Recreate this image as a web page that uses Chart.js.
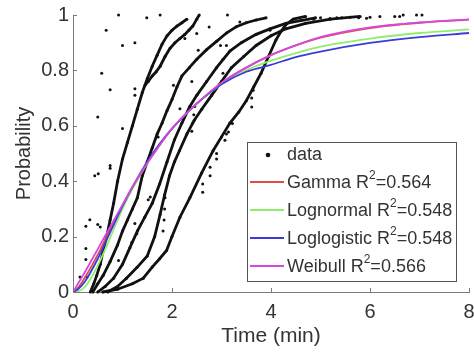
<!DOCTYPE html>
<html>
<head>
<meta charset="utf-8">
<script src="https://cdn.jsdelivr.net/npm/chart.js@4/dist/chart.umd.min.js"></script>
<style>
  html, body { margin: 0; padding: 0; background: #fff; }
  #wrap { width: 474px; height: 354px; }
</style>
</head>
<body>
<div id="wrap"><canvas id="c" width="474" height="354"></canvas></div>
<script>
// Empirical cumulative probability of each recorded run: time (min) and probability
const runA_t = [0.35,0.42,0.48,0.55,0.61,0.68,0.75,0.82,0.9,1.0,1.1,1.2,1.3,1.4,1.5,1.6,1.7,1.8,1.9,2.0,2.1,2.2,2.3];
const runA_p = [0,0.03,0.06,0.1,0.15,0.2,0.26,0.32,0.4,0.48,0.54,0.6,0.66,0.72,0.77,0.815,0.855,0.895,0.925,0.945,0.96,0.972,0.985];

const runB_t = [1.45,1.52,1.6,1.68,1.76,1.86,1.96,2.06,2.16,2.26,2.34,2.42,2.5,2.55];
const runB_p = [0.745,0.76,0.78,0.795,0.815,0.85,0.88,0.9,0.915,0.93,0.945,0.96,0.985,1.0];

const runC_t = [0.4,0.5,0.61,0.75,0.9,1.0,1.1,1.2,1.3,1.4,1.5,1.6,1.7,1.8,1.9,2.0,2.1,2.2,2.35,2.5,2.7,2.9,3.1,3.3,3.5,3.7,3.9];
const runC_p = [0,0.03,0.06,0.11,0.17,0.22,0.26,0.3,0.34,0.42,0.47,0.52,0.57,0.61,0.655,0.695,0.74,0.78,0.81,0.84,0.875,0.905,0.935,0.958,0.972,0.982,0.99];

const runD_t = [0.5,0.65,0.82,1.0,1.15,1.3,1.45,1.6,1.75,1.9,2.05,2.2,2.36,2.5,2.7,2.9,3.17,3.4,3.7,3.98,4.3,4.6,4.9];
const runD_p = [0,0.02,0.05,0.1,0.16,0.22,0.27,0.32,0.39,0.47,0.55,0.61,0.67,0.71,0.76,0.81,0.87,0.9,0.93,0.95,0.97,0.98,0.99];

const runE_t = [0.7,0.9,1.08,1.3,1.5,1.65,1.76,1.85,1.95,2.05,2.15,2.3,2.45,2.6,2.8,3.0,3.2,3.45,3.7,4.0,4.3,4.7,5.2,5.8];
const runE_p = [0,0.02,0.05,0.09,0.13,0.2,0.28,0.35,0.42,0.47,0.51,0.57,0.62,0.66,0.71,0.76,0.81,0.85,0.89,0.925,0.95,0.97,0.985,0.995];

const runF_t = [0.6,0.9,1.2,1.42,1.6,1.75,1.89,2.0,2.16,2.36,2.6,2.83,3.0,3.17,3.35,3.5,3.65,3.8,3.95,4.1,4.2,4.3,4.45,4.7];
const runF_p = [0,0.01,0.03,0.05,0.09,0.12,0.15,0.2,0.27,0.34,0.43,0.51,0.56,0.61,0.65,0.69,0.74,0.79,0.85,0.91,0.94,0.965,0.985,0.995];

// Isolated observations (short runs and late tails)
const looseT = [0.92,1.49,1.76,0.67,1.0,1.25,0.58,0.75,1.25,1.25,0.5,1.0,0.75,0.75,0.44,0.51,0.26,0.34,0.5,0.26,0.26,0.14,0.28,1.25,1.29,1.52,1.19,0.92,
                2.77,2.62,2.62,2.03,2.16,1.72,2.26,2.75,2.5,2.98,3.1,3.12,3.14,3.22,2.9,3.07,3.64,3.61,3.61,3.98,3.03,3.03,2.53,3.37,1.56,0.55,2.4,
                2.4,2.42,2.44,2.46,1.82,1.84,1.85,1.86,2.9,2.77,3.1,
                4.86,5.0,5.19,5.33,5.43,5.6,5.77,5.93,6.0,6.2,6.5,6.6,6.67,6.94,7.05];
const looseP = [1.0,0.99,1.0,0.945,0.89,0.9,0.79,0.73,0.734,0.71,0.632,0.59,0.457,0.447,0.42,0.427,0.237,0.261,0.244,0.157,0.117,0.054,0.054,0.247,0.21,0.333,0.18,0.114,
                0.42,0.39,0.36,0.746,0.662,0.56,0.915,0.957,0.933,0.89,0.89,1.0,0.578,0.608,0.5,0.548,0.728,0.7,0.668,0.945,0.84,0.79,0.873,0.975,0.343,0.235,0.76,
                0.58,0.61,0.64,0.67,0.22,0.26,0.3,0.34,0.48,0.45,0.57,
                0.985,0.99,0.987,0.99,0.99,0.992,0.99,0.988,0.992,0.995,0.995,0.995,1.0,1.0,1.0];

// Fitted distribution CDFs
const fitT        = [0,0.1,0.25,0.5,0.75,1,1.25,1.5,1.75,2,2.5,3,3.5,4,4.5,5,6,7,8];
const gammaP      = [0,0.015,0.055,0.135,0.225,0.31,0.39,0.465,0.53,0.59,0.68,0.755,0.81,0.855,0.89,0.918,0.953,0.972,0.983];
const lognormalP  = [0,0.002,0.02,0.095,0.195,0.3,0.39,0.465,0.532,0.59,0.68,0.75,0.8,0.835,0.862,0.886,0.915,0.935,0.948];
const loglogistP  = [0,0.01,0.04,0.12,0.215,0.31,0.395,0.47,0.535,0.59,0.68,0.75,0.795,0.82,0.848,0.868,0.899,0.92,0.935];
const weibullP    = [0,0.03,0.075,0.155,0.235,0.315,0.395,0.465,0.53,0.59,0.68,0.755,0.81,0.855,0.89,0.92,0.955,0.973,0.984];

const fitNames  = ['Gamma', 'Lognormal', 'Loglogistic', 'Weibull'];
const fitR2     = ['0.564', '0.548', '0.548', '0.566'];
const fitColors = ['#e24a4a', '#8ef06a', '#3b3bdc', '#d448e0'];

const xTicks = [0, 2, 4, 6, 8];
const yTicks = [0, 0.2, 0.4, 0.6, 0.8, 1];

const FONT = "'Liberation Sans', Arial, Helvetica, sans-serif";
const TEXT = '#333333';
const AXIS = '#7a7a7a';

const pts = (t, p) => t.map((v, i) => ({ x: v, y: p[i] }));

const runs = [[runA_t, runA_p], [runB_t, runB_p], [runC_t, runC_p], [runD_t, runD_p], [runE_t, runE_p], [runF_t, runF_p]];

const datasets = [];
runs.forEach(([t, p]) => {
  datasets.push({
    label: 'data', data: pts(t, p), showLine: true,
    borderColor: '#111', borderWidth: 2.8, backgroundColor: '#111',
    pointRadius: 1.5, pointHoverRadius: 1.5, pointBorderWidth: 0,
    tension: 0, order: 10, clip: 4
  });
});
datasets.push({
  label: 'data', data: pts(looseT, looseP), showLine: false,
  backgroundColor: '#111', borderColor: '#111',
  pointRadius: 1.5, pointHoverRadius: 1.5, pointBorderWidth: 0, order: 10, clip: 4
});
[gammaP, lognormalP, loglogistP, weibullP].forEach((p, i) => {
  datasets.push({
    label: fitNames[i] + ' R2=' + fitR2[i], data: pts(fitT, p), showLine: true,
    borderColor: fitColors[i], borderWidth: 1.8, pointRadius: 0, pointHoverRadius: 0,
    cubicInterpolationMode: 'monotone', order: 3 - i, fitIndex: i
  });
});

// Inward tick marks on the two visible axes
const inwardTicks = {
  id: 'inwardTicks',
  afterDraw(chart) {
    const { ctx, chartArea: a, scales: { x, y } } = chart;
    ctx.save();
    ctx.strokeStyle = AXIS; ctx.lineWidth = 1;
    ctx.beginPath();
    xTicks.forEach(v => { const px = Math.round(x.getPixelForValue(v)) + 0.5; ctx.moveTo(px, a.bottom); ctx.lineTo(px, a.bottom - 4); });
    yTicks.forEach(v => { const py = Math.round(y.getPixelForValue(v)) + 0.5; ctx.moveTo(a.left, py); ctx.lineTo(a.left + 4, py); });
    ctx.stroke();
    ctx.restore();
  }
};

// Boxed legend in the lower right of the plot
const boxLegend = {
  id: 'boxLegend',
  afterDraw(chart) {
    const ctx = chart.ctx;
    const L = 247, T = 142, R = 457, B = 282;
    ctx.save();
    ctx.fillStyle = '#fff';
    ctx.fillRect(L, T, R - L, B - T);
    ctx.strokeStyle = '#555'; ctx.lineWidth = 1;
    ctx.strokeRect(L + 0.5, T + 0.5, R - L - 1, B - T - 1);
    ctx.textBaseline = 'middle';
    ctx.font = '18px ' + FONT;
    ctx.fillStyle = '#111';
    ctx.beginPath(); ctx.arc(268, 155, 2.3, 0, Math.PI * 2); ctx.fill();
    ctx.fillStyle = TEXT;
    ctx.fillText('data', 287, 155);
    const rows = [182, 210, 238, 266];
    chart.data.datasets.filter(d => d.fitIndex !== undefined).forEach(d => {
      const i = d.fitIndex, yy = rows[i];
      ctx.strokeStyle = d.borderColor; ctx.lineWidth = 1.8;
      ctx.beginPath(); ctx.moveTo(250, yy); ctx.lineTo(284, yy); ctx.stroke();
      ctx.fillStyle = TEXT;
      ctx.font = '18px ' + FONT;
      let xx = 287;
      const head = fitNames[i] + ' R';
      ctx.fillText(head, xx, yy + 1);
      xx += ctx.measureText(head).width;
      ctx.font = '12px ' + FONT;
      ctx.fillText('2', xx, yy - 6);
      xx += ctx.measureText('2').width;
      ctx.font = '18px ' + FONT;
      ctx.fillText('=' + fitR2[i], xx, yy + 1);
    });
    ctx.restore();
  }
};

new Chart(document.getElementById('c'), {
  type: 'scatter',
  data: { datasets },
  options: {
    responsive: false, animation: false, devicePixelRatio: 1,
    layout: { padding: { left: 0, right: 5, top: 15, bottom: 0 } },
    plugins: { legend: { display: false }, tooltip: { enabled: false } },
    scales: {
      x: {
        type: 'linear', min: 0, max: 8,
        afterFit(s) { s.height = 62; s.paddingLeft = 0; s.paddingRight = 0; },
        afterBuildTicks(s) { s.ticks = xTicks.map(v => ({ value: v })); },
        grid: { display: false, drawTicks: false },
        border: { display: true, color: AXIS, width: 1 },
        ticks: { color: TEXT, font: { family: FONT, size: 20 }, padding: 8, callback: v => String(v) },
        title: { display: true, text: 'Time (min)', color: TEXT, font: { family: FONT, size: 21 }, padding: { bottom: 5 } }
      },
      y: {
        type: 'linear', min: 0, max: 1,
        afterFit(s) { s.width = 73; s.paddingTop = 0; s.paddingBottom = 0; },
        afterBuildTicks(s) { s.ticks = yTicks.map(v => ({ value: v })); },
        grid: { display: false, drawTicks: false },
        border: { display: true, color: AXIS, width: 1 },
        ticks: { color: TEXT, font: { family: FONT, size: 20 }, padding: 4, callback: v => String(Number(v.toFixed(1))) },
        title: { display: true, text: 'Probability', color: TEXT, font: { family: FONT, size: 20 }, padding: { top: 12 } }
      }
    }
  },
  plugins: [inwardTicks, boxLegend]
});
</script>
</body>
</html>
